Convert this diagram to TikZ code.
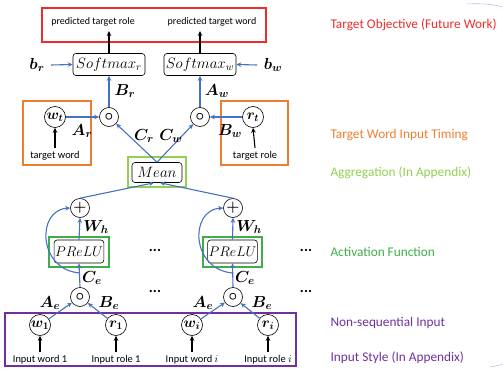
\RequirePackage{fix-cm}
\documentclass[tikz,border=0pt]{standalone}
\usepackage{fontspec}
\setmainfont{Carlito}
\usepackage{amsmath}
\usepackage{bm}
\usetikzlibrary{arrows.meta}
\definecolor{linkblue}{HTML}{4472C4}
\definecolor{objred}{HTML}{EE2C2C}
\definecolor{timorange}{HTML}{ED7D31}
\definecolor{agggreen}{HTML}{92D050}
\definecolor{actgreen}{HTML}{3FAE49}
\definecolor{inpurple}{HTML}{7030A0}
\definecolor{faintblue}{HTML}{B4C7E7}
\tikzset{
  flow/.style={draw=linkblue, line width=1.1pt, -{Stealth[length=5pt,width=4.5pt]}},
  feed/.style={draw=black, line width=1.1pt, -{Stealth[length=5pt,width=4.5pt]}},
  op/.style={circle, draw, line width=0.6pt, minimum size=19pt, inner sep=0pt, font=\fontsize{15}{17}\selectfont},
  var/.style={op, minimum size=21pt, font=\fontsize{14.5}{16}\selectfont},
  fn/.style={draw, rounded corners=3pt, line width=0.6pt, minimum height=22pt, inner sep=1pt, font=\fontsize{15}{17}\selectfont},
  wlab/.style={font=\fontsize{16}{18}\selectfont},
  small/.style={font=\fontsize{10.4}{12}\selectfont},
  side/.style={anchor=west, font=\fontsize{13.3}{15}\selectfont},
  frame/.style={line width=1.5pt},
  dots/.style={font=\bfseries\fontsize{15}{17}\selectfont},
}
\begin{document}
\begin{tikzpicture}[x=1pt, y=-1pt]
\useasboundingbox (0,0) rectangle (503,369);

% ---- target objective ----
\draw[objred, frame] (42,8) rectangle (266,42);
\node[small, font=\fontsize{10}{12}\selectfont] (ptr) at (93,22) {predicted target role};
\node[small, font=\fontsize{10}{12}\selectfont] (ptw) at (212,22) {predicted target word};
\node[fn, minimum width=72pt] (smr) at (109,64.5) {$Softmax_r$};
\node[fn, minimum width=72pt] (smw) at (200,64.5) {$Softmax_w$};
\coordinate (tr) at (109,31);
\coordinate (tw) at (200,31);
\draw[feed] (smr.north) -- (tr);
\draw[feed] (smw.north) -- (tw);
\node[wlab] (br) at (37,65) {$\bm{b_r}$};
\node[wlab] (bw) at (273,65) {$\bm{b_w}$};
\draw[flow] (br.east) ++(3,0) coordinate (brs) (brs) -- (smr.west);
\draw[flow] (bw.west) ++(-3,0) coordinate (bws) (bws) -- (smw.east);

% ---- target word input timing ----
\node[op] (hr) at (109,117) {$\bm{\circ}$};
\node[op] (hw) at (200,117) {$\bm{\circ}$};
\draw[flow] (hr) -- (smr);
\draw[flow] (hw) -- (smw);
\node[wlab] (Br) at (125,91) {$\bm{B_r}$};
\node[wlab] (Aw) at (217,91) {$\bm{A_w}$};

\draw[timorange, frame] (23,101) rectangle (91,165);
\draw[timorange, frame] (221,101) rectangle (288,165);
\node[var] (wt) at (55,117) {$\bm{w_t}$};
\node[var] (rt) at (253,117) {$\bm{r_t}$};
\node[small] (tgw) at (55,156) {target word};
\node[small] (tgr) at (255,156) {target role};
\draw[feed] (tgw.north) -- (wt.south);
\draw[feed] (tgr.north) -- (rt.south);
\draw[flow] (wt) -- (hr);
\draw[flow] (rt) -- (hw);
\node[wlab] (Ar) at (82,131) {$\bm{A_r}$};
\node[wlab] (Bw) at (230,131) {$\bm{B_w}$};

% ---- aggregation ----
\draw[agggreen, frame] (128,157) rectangle (186,187);
\node[fn, minimum width=50pt, minimum height=20pt] (mean) at (157,172.5) {$Mean$};
\draw[flow] (mean.north) -- (hr);
\draw[flow] (mean.north) -- (hw);
\node[wlab] (Cr) at (144,136) {$\bm{C_r}$};
\node[wlab] (Cw) at (171,136) {$\bm{C_w}$};

% ---- activation ----
\node[op] (pl1) at (80,208) {$\bm{+}$};
\node[op] (pl2) at (233,208) {$\bm{+}$};
\draw[flow] (pl1.north) -- ([xshift=-3pt]mean.south);
\draw[flow] (pl2.north) -- ([xshift=3pt]mean.south);

\draw[actgreen, frame] (49,237) rectangle (109,267);
\draw[actgreen, frame] (203,237) rectangle (262,267);
\node[fn, minimum width=48pt, minimum height=23pt, font=\fontsize{14}{16}\selectfont] (pr1) at (79,251.5) {$PReLU$};
\node[fn, minimum width=48pt, minimum height=23pt, font=\fontsize{14}{16}\selectfont] (pr2) at (232.5,251.5) {$PReLU$};
\draw[flow] (pr1.north) -- (pl1.south);
\draw[flow] (pr2.north) -- (pl2.south);
\node[wlab] (Wh1) at (96,227) {$\bm{W_h}$};
\node[wlab] (Wh2) at (249,227) {$\bm{W_h}$};

\node[op] (h1) at (80,297) {$\bm{\circ}$};
\node[op] (h2) at (233,297) {$\bm{\circ}$};
\draw[flow] (h1.north) -- (pr1.south);
\draw[flow] (h2.north) -- (pr2.south);
\node[wlab] (Ce1) at (92,278) {$\bm{C_e}$};
\node[wlab] (Ce2) at (245,278) {$\bm{C_e}$};

% residual paths around the activation
\coordinate (s1) at (80,273);
\coordinate (s2) at (233,273);
\draw[flow] (s1) .. controls (38,270) and (36,210) .. (pl1.west);
\draw[flow] (s2) .. controls (191,270) and (189,210) .. (pl2.west);

\node[wlab] (Ae1) at (50,303) {$\bm{A_e}$};
\node[wlab] (Be1) at (109,303) {$\bm{B_e}$};
\node[wlab] (Ae2) at (203,303) {$\bm{A_e}$};
\node[wlab] (Be2) at (262,303) {$\bm{B_e}$};

\node[dots] (d1) at (155,250) {...};
\node[dots] (d2) at (306,250) {...};
\node[dots] (d3) at (155,291) {...};
\node[dots] (d4) at (306,291) {...};

% ---- non-sequential input ----
\draw[inpurple, frame] (5,313) rectangle (296,366);
\node[var] (w1) at (40,325) {$\bm{w_1}$};
\node[var] (r1) at (116,325) {$\bm{r_1}$};
\node[var] (wi) at (192,325) {$\bm{w_i}$};
\node[var] (ri) at (268,325) {$\bm{r_i}$};
\draw[flow] (w1) -- (h1);
\draw[flow] (r1) -- (h1);
\draw[flow] (wi) -- (h2);
\draw[flow] (ri) -- (h2);
\node[small] (iw1) at (40,360) {Input word 1};
\node[small] (ir1) at (116,360) {Input role 1};
\node[small] (iwi) at (192,360) {Input word $i$};
\node[small] (iri) at (268,360) {Input role $i$};
\draw[feed] (iw1.north) -- (w1.south);
\draw[feed] (ir1.north) -- (r1.south);
\draw[feed] (iwi.north) -- (wi.south);
\draw[feed] (iri.north) -- (ri.south);

% ---- legend ----
\node[side, text=objred] (lg1) at (327,25) {Target Objective (Future Work)};
\node[side, text=timorange] (lg2) at (327,135) {Target Word Input Timing};
\node[side, text=agggreen] (lg3) at (327,173) {Aggregation (In Appendix)};
\node[side, text=actgreen] (lg4) at (327,252) {Activation Function};
\node[side, text=inpurple] (lg5) at (327,323) {Non-sequential Input};
\node[side, text=inpurple] (lg6) at (327,358) {Input Style (In Appendix)};

% faint slide edges
\draw[faintblue, line width=0.6pt] (467,4) .. controls (485,3) and (495,5) .. (503,7);
\draw[faintblue, line width=0.6pt] (490,367) .. controls (496,366) and (500,365) .. (503,364);
\end{tikzpicture}
\end{document}
